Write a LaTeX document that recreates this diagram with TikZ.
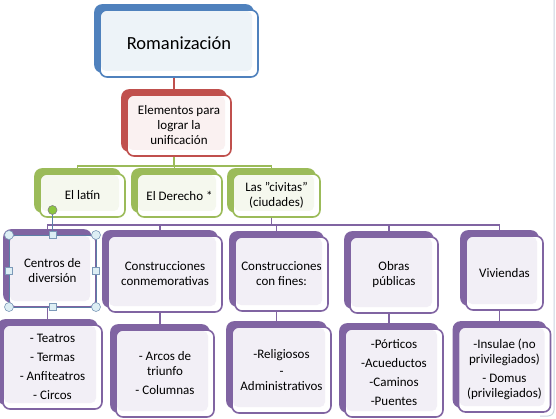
\documentclass[tikz,border=0pt]{standalone}
\usepackage{fontspec}
\setmainfont{Carlito}
\usepackage{xcolor}
\usepackage{tikz}
\usetikzlibrary{arrows.meta, positioning, calc}

\definecolor{romblue}{HTML}{4F81BD}
\definecolor{romred}{HTML}{C0504D}
\definecolor{romgreen}{HTML}{9BBB59}
\definecolor{rompurple}{HTML}{8064A2}
\definecolor{selblue}{HTML}{5B7FA6}
\definecolor{handlefill}{HTML}{DDEEF4}
\definecolor{handlegreen}{HTML}{8CC63F}
\definecolor{framegray}{HTML}{C9D3DF}

\begin{document}
\begin{tikzpicture}[
      x=1pt, y=-1pt,
      card/.style 2 args={rectangle, rounded corners=7pt, draw=#1, line width=1.6pt, fill=white,
        preaction={fill=#1, draw=#1, transform canvas={shift={(-5pt,5pt)}}},
        path picture={\fill[#2, rounded corners=5pt]
          ([xshift=1pt,yshift=-1pt]path picture bounding box.north west) rectangle
          ([xshift=-6pt,yshift=6pt]path picture bounding box.south east);},
        align=center, inner sep=2pt, font=\fontsize{13}{15}\selectfont},
      bluecard/.style={card={romblue}{romblue!10}},
      redcard/.style={card={romred}{romred!8}},
      greencard/.style={card={romgreen}{romgreen!10}},
      purplecard/.style={card={rompurple}{rompurple!10}},
      size/.style 2 args={minimum width=#1pt, minimum height=#2pt},
      link/.style={draw=#1, line width=1.6pt},
      handle/.style={draw=selblue!80, line width=0.6pt, fill=handlefill}
    ]
      \useasboundingbox (0,0) rectangle (556,419);

      \node[bluecard, size={158}{67}, font=\fontsize{18.5}{22}\selectfont] (rom) at (179,43.5) {Romanización};
      \node[redcard, size={104}{61}] (ele) at (179,125.5) {Elementos para\\lograr la\\unificación};

      \node[greencard, size={85}{43}] (lat) at (82.5,195.5) {El latín};
      \node[greencard, size={85}{43}] (der) at (179.5,195.5) {El Derecho *};
      \node[greencard, size={87}{43}] (civ) at (276.5,195.5) {Las "civitas"\\(ciudades)};

      \node[purplecard, size={87}{72}] (cdiv) at (52.5,271) {Centros de\\diversión};
      \node[purplecard, size={114}{76}] (ccon) at (165,274) {Construcciones\\conmemorativas};
      \node[purplecard, size={93}{74}] (cfin) at (281.5,274) {Construcciones\\con fines:};
      \node[purplecard, size={88}{76}] (obr) at (394,275) {Obras\\públicas};
      \node[purplecard, size={77}{74}] (viv) at (504.5,273) {Viviendas};

      \node[purplecard, size={99}{84}] (tea) at (52.5,367) {- Teatros\\[4pt]- Termas\\[4pt]- Anfiteatros\\[4pt]- Circos};
      \node[purplecard, size={98}{87}] (arc) at (165,373.5) {- Arcos de\\triunfo\\[4pt]- Columnas};
      \node[purplecard, size={99}{86}] (rel) at (281.5,370) {-Religiosos\\[2pt]-\\Administrativos};
      \node[purplecard, size={98}{88}] (por) at (394,373) {-Pórticos\\[4pt]-Acueductos\\[4pt]-Caminos\\[4pt]-Puentes};
      \node[purplecard, size={92}{85}] (ins) at (504.5,369.5) {-Insulae (no\\privilegiados)\\[4pt]- Domus\\(privilegiados)};

      \draw[link=romred] ([xshift=-5pt]rom.south) -- ([xshift=-5pt,yshift=5pt]ele.north);
      \foreach \c in {lat, der, civ}
        \draw[link=romgreen] ([xshift=-5pt]ele.south) -- ++(0,9) -| ([xshift=-5pt,yshift=5pt]\c.north);
      \foreach \c in {cdiv, ccon, cfin, obr, viv}
        \draw[link=rompurple] ([xshift=-5pt]civ.south) -- ++(0,7) -| ([xshift=-5pt,yshift=5pt]\c.north);
      \foreach \p/\c in {cdiv/tea, ccon/arc, cfin/rel, obr/por, viv/ins}
        \draw[link=rompurple] ([xshift=-5pt]\p.south) -- ([xshift=-5pt,yshift=5pt]\c.north);

      % selection handles around "Centros de diversion"
      \draw[selblue, line width=0.8pt] (9,235) rectangle (96,307);
      \draw[selblue, line width=0.6pt] (52.5,235) -- (52.5,214);
      \draw[draw=gray, line width=0.6pt, fill=handlegreen] (52.5,210) circle (4.5);
      \foreach \p in {(9,235), (96,235), (9,307), (96,307)}
        \draw[handle] \p circle (4.5);
      \foreach \p in {(52.5,235), (52.5,307), (9,271), (96,271)}
        \draw[handle] \p ++(-3.5,-3.5) rectangle ++(7,7);

      \draw[framegray, line width=1pt, rounded corners=6pt] (554,-2) -- (554,416) -- (540,416);
    \end{tikzpicture}
\end{document}
